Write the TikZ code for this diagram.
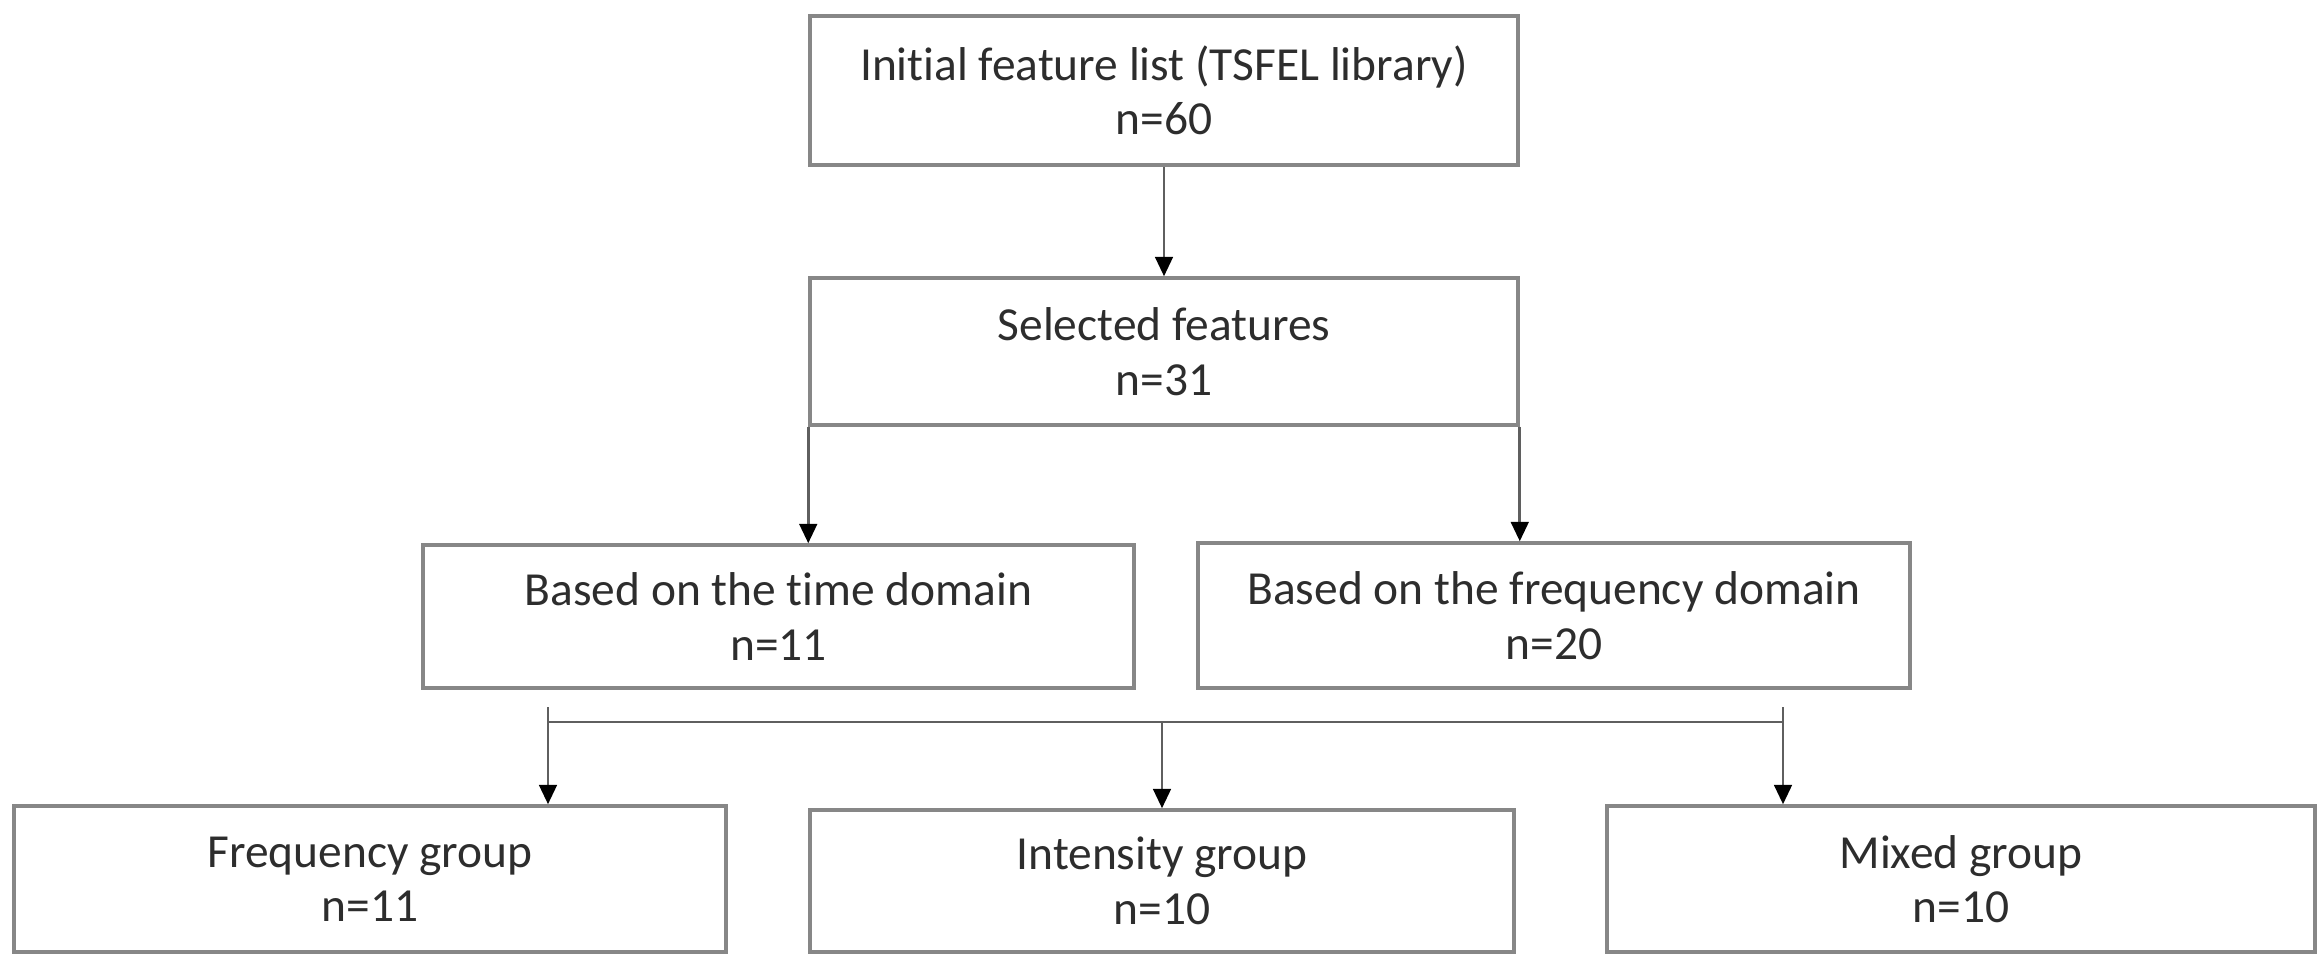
\documentclass[tikz,border=0pt]{standalone}
\usepackage{fontspec}
\setmainfont{Carlito}[Ligatures=NoCommon]
\usetikzlibrary{arrows.meta}
\definecolor{boxGray}{RGB}{135,135,135}
\definecolor{lineGray}{RGB}{95,95,95}
\definecolor{textGray}{RGB}{45,45,45}

\begin{document}
\begin{tikzpicture}
[nodeDecorate/.style={shape=rectangle,draw=boxGray,line width=1pt,align=center,
   text=textGray,inner sep=2pt,font=\fontsize{13.5}{15.5}\selectfont},
 lineDecorate/.style={draw=lineGray,line width=0.8pt},
 arrowDecorate/.style={lineDecorate,-{Triangle[length=5.5pt,width=5pt,color=black]}}]
\useasboundingbox (0,0) rectangle (23.22,-9.60);
%% boxes
\foreach \nodename/\x/\y/\w/\h/\txt in {
  init/11.64/-0.905/7.08/1.49/{Initial feature list (TSFEL library)\\n=60},
  sel/11.64/-3.515/7.08/1.47/{Selected features\\n=31},
  time/7.785/-6.165/7.11/1.43/{Based on the time domain\\n=11},
  freq/15.54/-6.155/7.12/1.45/{Based on the frequency domain\\n=20},
  fgrp/3.70/-8.79/7.12/1.46/{Frequency group\\n=11},
  igrp/11.62/-8.81/7.04/1.42/{Intensity group\\n=10},
  mgrp/19.61/-8.79/7.08/1.46/{Mixed group\\n=10}}
{
  \node (\nodename) at (\x,\y) [nodeDecorate,minimum width=\w cm,minimum height=\h cm] {\txt};
}
%% bus below the domains
\coordinate (tickL) at (5.48,-7.07);
\coordinate (tickR) at (17.83,-7.07);
\coordinate (busL) at (5.48,-7.22);
\coordinate (busR) at (17.83,-7.22);
\draw[lineDecorate] (busL) -- (busR);
%% arrows
\draw[arrowDecorate] (init.south) -- (sel.north);
\draw[arrowDecorate] (sel.south west) -- (sel.south west |- time.north);
\draw[arrowDecorate] (sel.south east) -- (sel.south east |- freq.north);
\draw[arrowDecorate] (tickL) -- (tickL |- fgrp.north);
\draw[arrowDecorate] (busL -| igrp.north) -- (igrp.north);
\draw[arrowDecorate] (tickR) -- (tickR |- mgrp.north);
\end{tikzpicture}
\end{document}
